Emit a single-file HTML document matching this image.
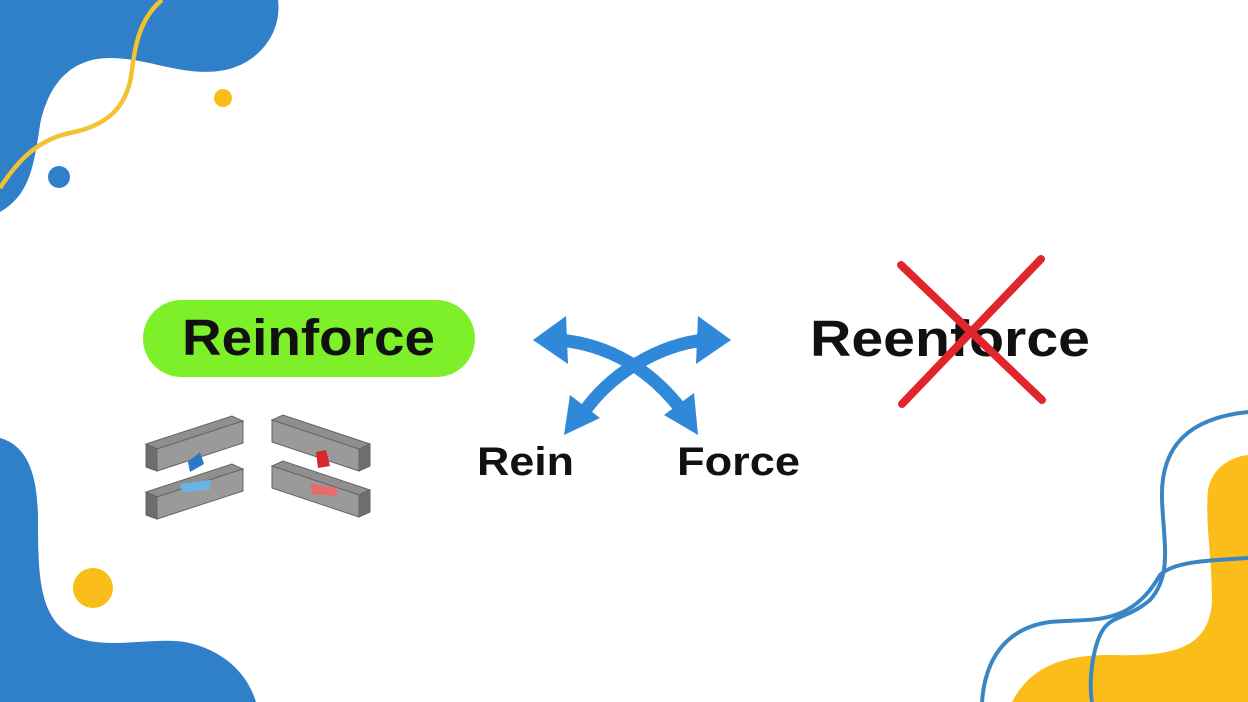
<!DOCTYPE html>
<html><head><meta charset="utf-8"><style>
html,body{margin:0;padding:0;background:#fff;}
svg{display:block;}
text{font-family:"Liberation Sans",Arial,sans-serif;font-weight:bold;fill:#111;}
</style></head><body>
<svg width="1248" height="702" viewBox="0 0 1248 702" xmlns="http://www.w3.org/2000/svg">
<path d="M0,0 L278,0 C282,30 262,62 225,70 C185,78 150,58 110,58 C70,58 48,85 40,125 C34,165 30,195 0,212 Z" fill="#2f80c8"/>
<path d="M162,0 C140,18 135,45 132,70 C128,105 110,125 70,133 C35,140 15,165 0,188" fill="none" stroke="#f2c230" stroke-width="4.5"/>
<circle cx="223" cy="98" r="9" fill="#fbbd19"/>
<circle cx="59" cy="177" r="11" fill="#2f80c8"/>
<path d="M0,438 C25,445 38,470 38,520 C38,580 40,620 75,637 C110,650 150,637 185,642 C225,650 248,675 256,702 L0,702 Z" fill="#2f80c8"/>
<circle cx="93" cy="588" r="20" fill="#fbbd19"/>
<path d="M1012,702 C1030,668 1060,655 1110,655 C1160,656 1210,655 1212,600 C1212,560 1205,520 1208,490 C1212,468 1230,457 1248,455 L1248,702 Z" fill="#fbbd19"/>
<path d="M1248,412 C1190,418 1160,445 1162,500 C1164,545 1172,575 1150,600 C1120,625 1105,610 1095,650 C1090,670 1090,690 1092,702" fill="none" stroke="#3a86c4" stroke-width="4"/>
<path d="M982,702 C985,660 1005,628 1050,622 C1090,618 1130,628 1160,575 C1175,560 1220,560 1248,558" fill="none" stroke="#3a86c4" stroke-width="4"/>
<g fill="#8f8f8f" stroke="#666" stroke-width="1">
<polygon points="146,444 232,416 243,421 157,449"/><polygon points="146,444 157,449 157,471 146,467" fill="#6e6e6e"/><polygon points="157,449 243,421 243,443 157,471" fill="#9a9a9a"/>
<polygon points="146,492 232,464 243,469 157,497"/><polygon points="146,492 157,497 157,519 146,515" fill="#6e6e6e"/><polygon points="157,497 243,469 243,491 157,519" fill="#9a9a9a"/>
<polygon points="272,420 283,415 370,444 359,449"/><polygon points="272,420 359,449 359,471 272,442" fill="#9a9a9a"/><polygon points="359,449 370,444 370,466 359,471" fill="#6e6e6e"/>
<polygon points="272,466 283,461 370,490 359,495"/><polygon points="272,466 359,495 359,517 272,488" fill="#9a9a9a"/><polygon points="359,495 370,490 370,512 359,517" fill="#6e6e6e"/>
</g>
<path d="M188,462 L200,452 L204,464 L190,472 Z" fill="#2a78c8"/>
<path d="M180,484 L210,480 L210,490 L182,492 Z" fill="#6ab4e8"/>
<path d="M316,452 L326,450 L330,466 L318,468 Z" fill="#d8262a"/>
<path d="M310,484 L338,488 L336,496 L312,494 Z" fill="#e86a6a"/>
<rect x="143" y="300" width="332" height="77" rx="38.5" fill="#7ef02a"/>
<text x="182" y="355" font-size="51" textLength="253" lengthAdjust="spacingAndGlyphs">Reinforce</text>
<g fill="none" stroke="#2f88d8" stroke-width="13">
<path d="M560,340 C610,345 650,370 680,408"/>
<path d="M704,340 C660,345 612,372 584,412"/>
</g>
<g fill="#2f88d8">
<polygon points="533,340 566,316 568,364"/>
<polygon points="731,340 698,316 696,364"/>
<polygon points="698,435 664,415 694,393"/>
<polygon points="564,435 570,395 600,418"/>
</g>
<text x="477" y="475" font-size="40" textLength="97" lengthAdjust="spacingAndGlyphs">Rein</text>
<text x="677" y="475" font-size="40" textLength="123" lengthAdjust="spacingAndGlyphs">Force</text>
<text x="810" y="356" font-size="51" textLength="280" lengthAdjust="spacingAndGlyphs">Reenforce</text>
<g stroke="#e0262a" stroke-width="8" stroke-linecap="round">
<line x1="901" y1="265" x2="1042" y2="400"/>
<line x1="1041" y1="259" x2="902" y2="404"/>
</g>
</svg>
</body></html>
